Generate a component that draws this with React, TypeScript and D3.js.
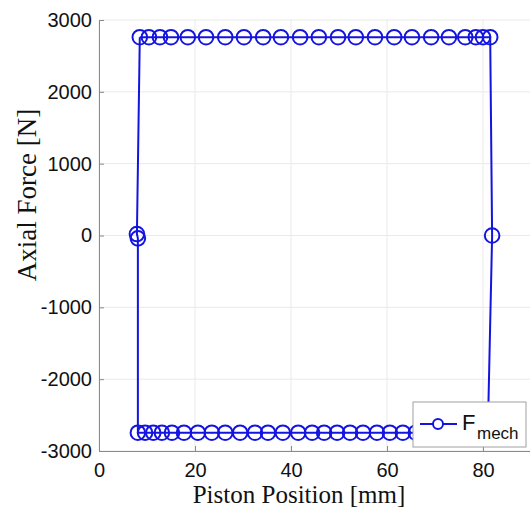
import React, { useRef, useEffect } from "react";
import * as d3 from "d3";

// piston position [mm] and axial force [N]
const topX = [8.5, 10.4, 12.7, 15.0, 18.5, 22.3, 26.3, 30.2, 34.2, 37.9, 41.9, 45.8, 49.8, 53.5, 57.5, 61.5, 65.2, 69.2, 72.9, 76.3, 78.5, 80.0, 81.5];
const topF = 2760;
const rightMid = [81.9, 0];
const bottomX = [81.0, 79.9, 78.4, 76.5, 74.2, 71.5, 68.8, 66.0, 63.3, 60.6, 57.9, 55.0, 52.3, 49.6, 46.9, 44.4, 41.5, 38.3, 35.2, 32.5, 29.4, 26.3, 23.5, 20.6, 17.7, 15.2, 13.1, 11.3, 9.6, 8.1];
const bottomF = -2745;
const leftMid = [
  [8.1, -40],
  [7.9, 20],
];

const xTicks = [0, 20, 40, 60, 80];
const yTicks = [-3000, -2000, -1000, 0, 1000, 2000, 3000];

const App = () => {
  const ref = useRef(null);
  const W = 530;
  const H = 512;
  const margin = { top: 20, left: 99 };
  const width = 432;
  const height = 431;
  const blue = "#1414e0";

  useEffect(() => {
    const svg = d3.select(ref.current);
    svg.selectAll("*").remove();

    const x = d3.scaleLinear().domain([0, 90]).range([0, width]);
    const y = d3.scaleLinear().domain([-3000, 3000]).range([height, 0]);
    const fmt = (d) => String(d);

    const pts = [
      ...topX.map((v) => [v, topF]),
      rightMid,
      ...bottomX.map((v) => [v, bottomF]),
      ...leftMid,
      [topX[0], topF],
    ];
    const markers = pts.slice(0, pts.length - 1);

    const g = svg
      .append("g")
      .attr("transform", `translate(${margin.left},${margin.top})`);

    // grid
    g.selectAll(".gx")
      .data(xTicks)
      .enter()
      .append("line")
      .attr("x1", (d) => x(d))
      .attr("x2", (d) => x(d))
      .attr("y1", 0)
      .attr("y2", height)
      .attr("stroke", "#e9e9e9");
    g.selectAll(".gy")
      .data(yTicks)
      .enter()
      .append("line")
      .attr("x1", 0)
      .attr("x2", width)
      .attr("y1", (d) => y(d))
      .attr("y2", (d) => y(d))
      .attr("stroke", "#e9e9e9");

    // axes
    const axisColor = "#8a8a8a";
    const xAxis = g
      .append("g")
      .attr("transform", `translate(0,${height})`)
      .call(d3.axisBottom(x).tickValues(xTicks).tickFormat(fmt).tickSize(-5).tickPadding(8));
    const yAxis = g
      .append("g")
      .call(d3.axisLeft(y).tickValues(yTicks).tickFormat(fmt).tickSize(-5).tickPadding(12));
    [xAxis, yAxis].forEach((a) => {
      a.select(".domain").attr("stroke", axisColor);
      a.selectAll(".tick line").attr("stroke", axisColor);
      a.selectAll("text")
        .attr("fill", "#111")
        .style("font-family", "'Liberation Sans', Arial, sans-serif")
        .style("font-size", "20px");
    });
    xAxis.selectAll("text").attr("dy", "0.9em");
    yAxis.selectAll("text").attr("x", -7);

    // data line + markers
    g.append("path")
      .datum(pts)
      .attr("fill", "none")
      .attr("stroke", blue)
      .attr("stroke-width", 2)
      .attr(
        "d",
        d3
          .line()
          .x((d) => x(d[0]))
          .y((d) => y(d[1]))
      );
    g.selectAll(".mk")
      .data(markers)
      .enter()
      .append("circle")
      .attr("cx", (d) => x(d[0]))
      .attr("cy", (d) => y(d[1]))
      .attr("r", 7.3)
      .attr("fill", "none")
      .attr("stroke", blue)
      .attr("stroke-width", 2);

    // legend
    const lg = svg.append("g").attr("transform", "translate(413,402)");
    lg.append("rect")
      .attr("width", 113)
      .attr("height", 45)
      .attr("fill", "#fff")
      .attr("stroke", "#a0a0a0");
    lg.append("line")
      .attr("x1", 7)
      .attr("x2", 44)
      .attr("y1", 22)
      .attr("y2", 22)
      .attr("stroke", blue)
      .attr("stroke-width", 2);
    lg.append("circle")
      .attr("cx", 25)
      .attr("cy", 22)
      .attr("r", 5)
      .attr("fill", "#fff")
      .attr("stroke", blue)
      .attr("stroke-width", 2);
    const lt = lg
      .append("text")
      .attr("x", 49)
      .attr("y", 28)
      .attr("fill", "#111")
      .style("font-family", "'Liberation Sans', Arial, sans-serif")
      .style("font-size", "22px");
    lt.append("tspan").text("F");
    lt.append("tspan")
      .attr("x", 64)
      .attr("y", 37)
      .style("font-size", "17px")
      .text("mech");

    // axis titles
    svg
      .append("text")
      .attr("x", 299)
      .attr("y", 503)
      .attr("text-anchor", "middle")
      .attr("fill", "#111")
      .style("font-family", "'Liberation Serif', 'Times New Roman', serif")
      .style("font-size", "25px")
      .text("Piston Position [mm]");
    svg
      .append("text")
      .attr("transform", "translate(36,195) rotate(-90)")
      .attr("text-anchor", "middle")
      .attr("fill", "#111")
      .style("font-family", "'Liberation Serif', 'Times New Roman', serif")
      .style("font-size", "27px")
      .text("Axial Force [N]");
  }, []);

  return (
    <div style={{ position: "absolute", left: 0, top: 0 }}>
      <svg ref={ref} width={W} height={H} style={{ display: "block", background: "#fff" }}></svg>
    </div>
  );
};

export default App;
